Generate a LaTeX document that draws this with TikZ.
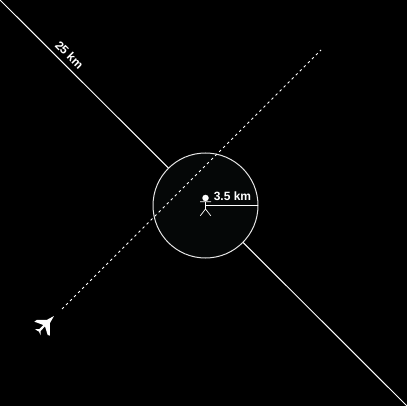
\documentclass[tikz,border=0pt]{standalone}
\usepackage{fontspec}
\setmainfont{Liberation Sans}
\definecolor{zonefill}{HTML}{050707}
\tikzset{
	track/.style = {draw=white, line width=1pt},
	limb/.style = {draw=white, line width=0.7pt},
	lbl/.style = {text=white, font=\fontsize{12}{14}\selectfont\bfseries, inner sep=0pt}
}

\begin{document}
\begin{tikzpicture}[x=1pt, y=-1pt]
	\fill[black] (0,0) rectangle (407,406);
	\useasboundingbox (0,0) rectangle (407,406);
	%
	\coordinate (runwayStart) at (0,0);
	\coordinate (runwayEnd) at (407,406);
	\coordinate (flightStart) at (62,309);
	\coordinate (flightEnd) at (321,50);
	\coordinate (rimEast) at (258,205.3);
	\coordinate (centre) at (205.5,205.3);
	%
	\draw[track] (runwayStart) -- (runwayEnd);
	\node[circle, draw=white!90!black, fill=zonefill, line width=1pt, minimum size=105pt, inner sep=0pt] (zone) at (205.5,205.5) {};
	\draw[track, dash pattern=on 2.5pt off 3.2pt] (flightStart) -- (flightEnd);
	\draw[track] (centre) -- (rimEast);
	%
	\node[circle, fill=white, minimum size=6.5pt, inner sep=0pt] (head) at (205.5,198) {};
	\coordinate (armL) at (200,201.8);
	\coordinate (armR) at (211,201.8);
	\coordinate (hip) at (205.5,209);
	\coordinate (footL) at (200.3,215.8);
	\coordinate (footR) at (210.8,215.8);
	\draw[limb] (head) -- (hip) (armL) -- (armR) (footL) -- (hip) -- (footR);
	%
	\node[lbl] (radiusLbl) at (232.5,196) {3.5 km};
	\node[lbl, rotate=-45] (runwayLbl) at (69.5,55) {25 km};
	%
	\fill[white, shift={(20,295)}, scale=0.3333] (102,63) -- (90,84) -- (90,122) -- (83,120)
	-- (75,94) -- (62,108) -- (62,121) -- (57,110) -- (45,103) -- (58,102)
	-- (70,90) -- (43,80) -- (50,75) -- (80,75) -- cycle;
\end{tikzpicture}
\end{document}
